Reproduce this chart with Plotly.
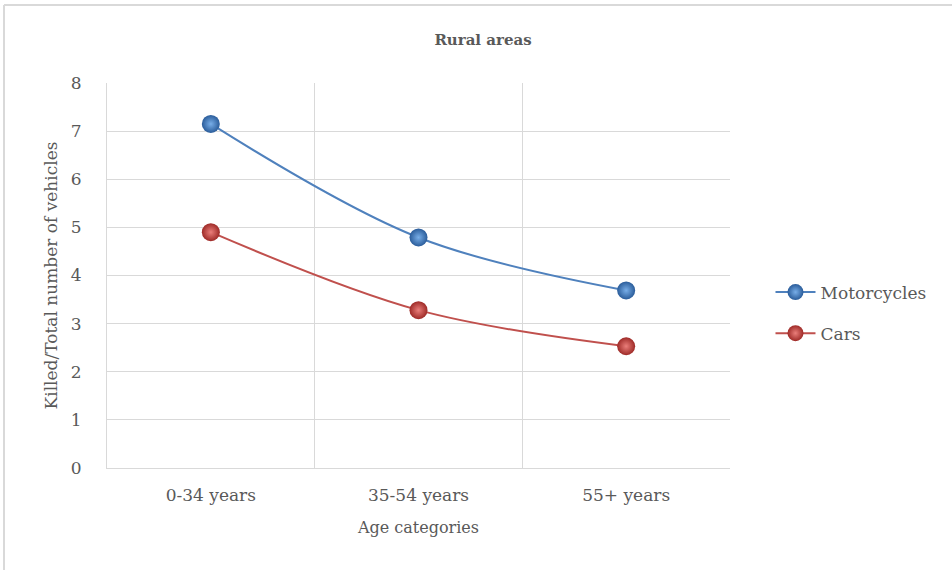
import plotly.graph_objects as go

# Age groups and fatality ratios (killed / total number of vehicles)
categories = ["0-34 years", "35-54 years", "55+ years"]
motorcycles = [7.15, 4.79, 3.69]
cars = [4.90, 3.28, 2.53]
y_ticks = [0, 1, 2, 3, 4, 5, 6, 7, 8]

FONT = "DejaVu Serif"
TEXT = "#595959"
GRID = "#d9d9d9"

fig = go.Figure()


def add_series(name, values, line_color, edge, center):
    fig.add_trace(go.Scatter(
        x=categories,
        y=values,
        name=name,
        legendgroup=name,
        mode="lines+markers",
        line=dict(color=line_color, width=2, shape="spline", smoothing=1.0),
        marker=dict(
            size=18,
            color=edge,
            gradient=dict(type="radial", color=center),
            line=dict(width=0),
        ),
    ))


add_series("Motorcycles", motorcycles, "#4f81bd", "#2a5c9a", "#78aee8")
add_series("Cars", cars, "#c0504d", "#9e2a27", "#ea7e7a")

fig.update_layout(
    width=952,
    height=570,
    margin=dict(l=107, r=222, t=83, b=102),
    paper_bgcolor="white",
    plot_bgcolor="white",
    font=dict(family=FONT, color=TEXT, size=16),
    title=dict(
        text="<b>Rural areas</b>",
        x=(483 - 107) / 623,
        xref="paper",
        xanchor="center",
        y=1 - 40 / 570,
        yref="container",
        yanchor="middle",
        font=dict(family=FONT, size=15, color=TEXT),
    ),
    legend=dict(
        x=1.065,
        xanchor="left",
        y=(468 - 313) / 385,
        yanchor="middle",
        font=dict(family=FONT, size=17, color=TEXT),
        itemwidth=40,
        tracegroupgap=16,
        bgcolor="rgba(0,0,0,0)",
    ),
    showlegend=True,
    shapes=[
        dict(type="line", xref="paper", yref="paper",
             x0=(4 - 107) / 623, x1=(952 - 107) / 623,
             y0=1 + (83 - 5) / 385, y1=1 + (83 - 5) / 385,
             line=dict(color="#d9d9d9", width=2)),
        dict(type="line", xref="paper", yref="paper",
             x0=(4 - 107) / 623, x1=(4 - 107) / 623,
             y0=1 + (83 - 5) / 385, y1=-(570 - 468) / 385,
             line=dict(color="#d9d9d9", width=2)),
    ],
)

fig.update_xaxes(
    type="category",
    tickson="boundaries",
    showgrid=True,
    gridcolor=GRID,
    gridwidth=1,
    showline=True,
    linecolor=GRID,
    linewidth=1,
    ticks="",
    ticklabelstandoff=12,
    tickfont=dict(family=FONT, size=17, color=TEXT),
    title=dict(text="Age categories", standoff=17,
               font=dict(family=FONT, size=16, color=TEXT)),
    range=[-0.5, 2.5],
)

fig.update_yaxes(
    range=[0, 8],
    tickvals=y_ticks,
    showgrid=True,
    gridcolor=GRID,
    gridwidth=1,
    showline=True,
    linecolor=GRID,
    linewidth=1,
    zeroline=False,
    ticks="",
    ticklabelstandoff=21,
    tickfont=dict(family=FONT, size=17, color=TEXT),
    title=dict(text="Killed/Total number of vehicles", standoff=8,
               font=dict(family=FONT, size=17, color=TEXT)),
)

fig.write_html("out.html")
